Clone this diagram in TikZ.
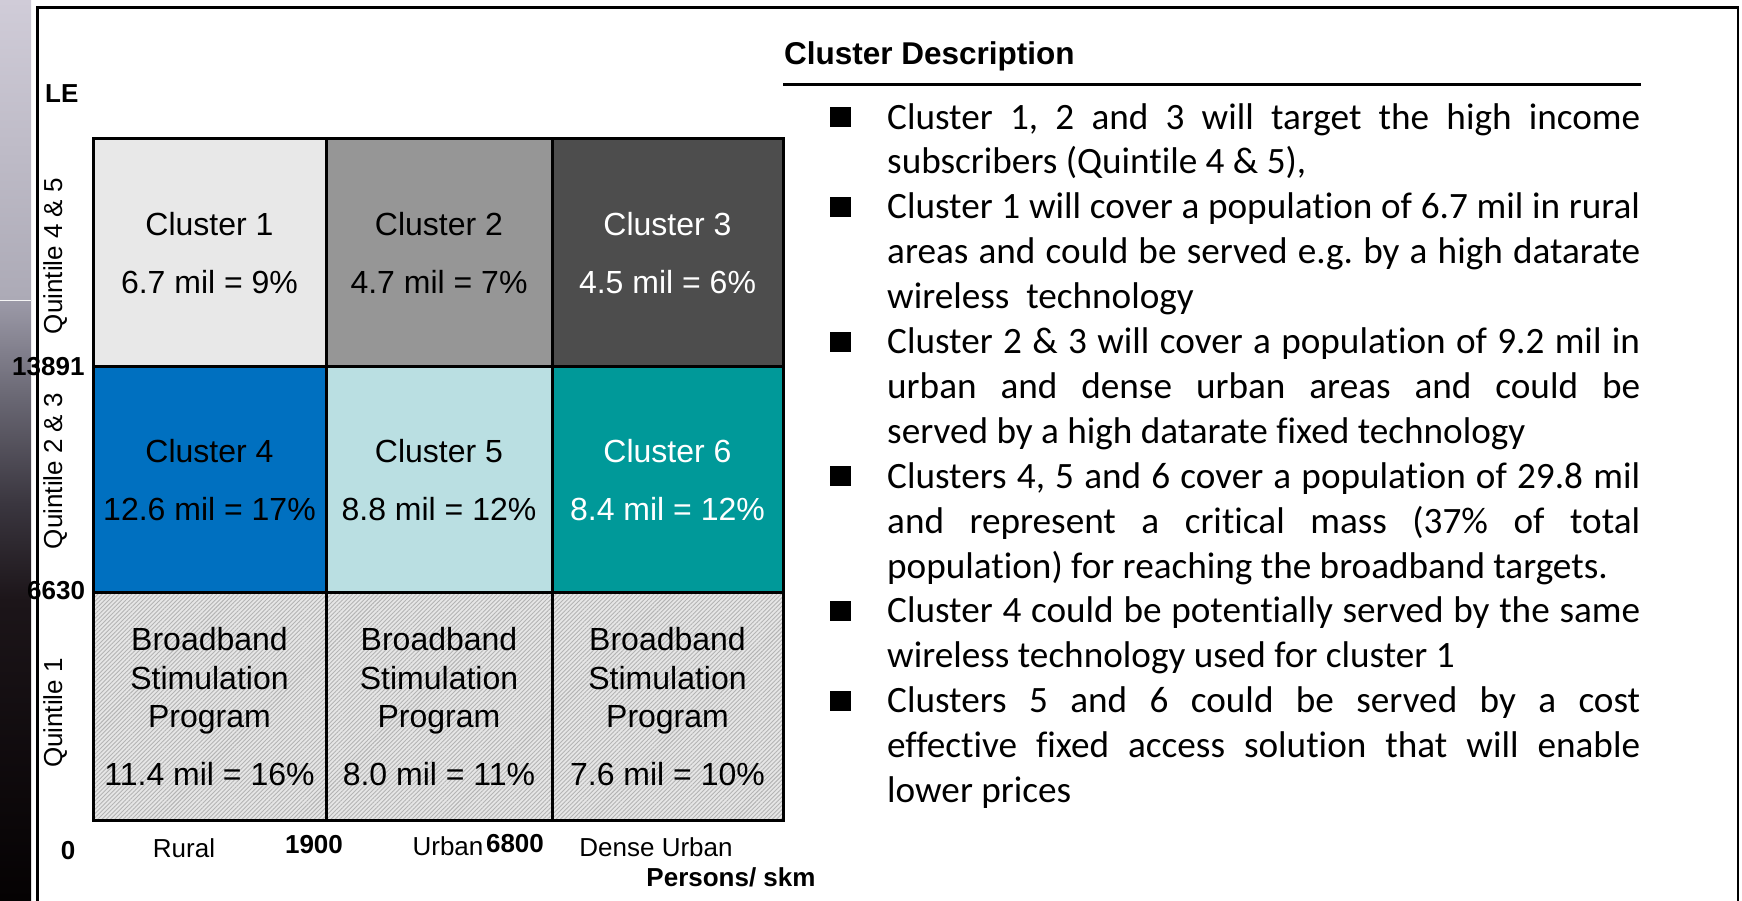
\documentclass[tikz,border=0pt]{standalone}
\usepackage{fontspec}
\setmainfont{Liberation Sans}
\newfontfamily\calfont[Ligatures=NoCommon]{Carlito}
\usetikzlibrary{patterns.meta}
\frenchspacing

% cell fills
\definecolor{cOne}{HTML}{E8E8E8}
\definecolor{cTwo}{HTML}{969696}
\definecolor{cThree}{HTML}{4D4D4D}
\definecolor{cFour}{HTML}{0070C0}
\definecolor{cFive}{HTML}{BADFE2}
\definecolor{cSix}{HTML}{009999}
\definecolor{hatchbase}{HTML}{E6E6E6}
\definecolor{hatchline}{HTML}{B4B4B4}
% side strip
\definecolor{sT}{HTML}{D0CCD8}
\definecolor{sM}{HTML}{ACAAB6}
\definecolor{sA}{HTML}{9C9AA8}
\definecolor{sB}{HTML}{6A6874}
\definecolor{sBB}{HTML}{3A363F}
\definecolor{sC}{HTML}{1C1519}
\definecolor{sD}{HTML}{050203}

\pgfdeclareverticalshading{stripdark}{100bp}{color(0bp)=(sD); color(25bp)=(sD); color(50bp)=(sC); color(58bp)=(sBB); color(67bp)=(sB); color(75bp)=(sA); color(100bp)=(sA)}

\newcommand\jl[1]{\makebox[753pt][s]{#1}}

\tikzset{
  celltxt/.style={font=\fontsize{32}{38}\selectfont, anchor=base, inner sep=0pt},
  axlab/.style={font=\fontsize{26}{30}\selectfont, inner sep=0pt},
  axbold/.style={font=\bfseries\fontsize{26}{30}\selectfont, inner sep=0pt},
  desc/.style={font=\calfont\fontsize{37.2}{44}\selectfont, anchor=base west, inner sep=0pt},
  bulletbox/.style={fill=black, draw=none, minimum width=21pt, minimum height=20pt, inner sep=0pt},
  gridline/.style={line width=3pt, black},
}

\begin{document}
\begin{tikzpicture}[x=1pt,y=-1pt]
\useasboundingbox (0,0) rectangle (1742,900);
\clip (0,0) rectangle (1742,900);
\fill[white] (0,0) rectangle (1742,900);

% dark photographic strip on the left edge
\shade[top color=sT, bottom color=sM] (0,0) rectangle (31,300);
\shade[shading=stripdark] (0,300) rectangle (31,900);
\draw[white!92!gray, line width=1pt] (0,300.5) -- (31,300.5);

% frame
\draw[line width=2.5pt] (37.5,7.5) rectangle (1738,920);

% cells
\fill[cOne]   (93,138) rectangle (326,366);
\fill[cTwo]   (326,138) rectangle (552,366);
\fill[cThree] (552,138) rectangle (783,366);
\fill[cFour]  (93,366) rectangle (326,592);
\fill[cFive]  (326,366) rectangle (552,592);
\fill[cSix]   (552,366) rectangle (783,592);
\fill[hatchbase] (93,592) rectangle (783,820);
\fill[pattern={Lines[angle=45,distance=3pt,line width=0.9pt]}, pattern color=hatchline] (93,592) rectangle (783,820);

% grid
\draw[gridline] (93,138) rectangle (783,820);
\draw[gridline] (326,138) -- (326,820);
\draw[gridline] (552,138) -- (552,820);
\draw[gridline] (93,366) -- (783,366);
\draw[gridline] (93,592) -- (783,592);

% cell texts
\node[celltxt] (c1a) at (209.5,235) {Cluster 1};
\node[celltxt] (c1b) at (209.5,293) {6.7 mil = 9\%};
\node[celltxt] (c2a) at (439,235) {Cluster 2};
\node[celltxt] (c2b) at (439,293) {4.7 mil = 7\%};
\node[celltxt, text=white] (c3a) at (667.5,235) {Cluster 3};
\node[celltxt, text=white] (c3b) at (667.5,293) {4.5 mil = 6\%};
\node[celltxt] (c4a) at (209.5,462) {Cluster 4};
\node[celltxt] (c4b) at (209.5,520) {12.6 mil = 17\%};
\node[celltxt] (c5a) at (439,462) {Cluster 5};
\node[celltxt] (c5b) at (439,520) {8.8 mil = 12\%};
\node[celltxt, text=white] (c6a) at (667.5,462) {Cluster 6};
\node[celltxt, text=white] (c6b) at (667.5,520) {8.4 mil = 12\%};
\foreach \cx/\v/\k in {209.5/11.4 mil = 16\%/7, 439/8.0 mil = 11\%/8, 667.5/7.6 mil = 10\%/9}{
  \node[celltxt] (c\k a) at (\cx,650) {Broadband};
  \node[celltxt] (c\k b) at (\cx,689) {Stimulation};
  \node[celltxt] (c\k c) at (\cx,727) {Program};
  \node[celltxt] (c\k d) at (\cx,785) {\v};
}

% axis labels
\node[axbold, anchor=base west] (le) at (45,102) {LE};
\node[axlab, rotate=90, anchor=base] (q45) at (62,256) {Quintile 4 \& 5};
\node[axlab, rotate=90, anchor=base] (q23) at (62,471) {Quintile 2 \& 3};
\node[axlab, rotate=90, anchor=base] (q1) at (62,713) {Quintile 1};
\node[axbold, anchor=base west] (t13891) at (12,375) {13891};
\node[axbold, anchor=base west] (t6630) at (27,599) {6630};
\node[axbold, anchor=base] (t0) at (68,859) {0};
\node[axbold, anchor=base] (t1900) at (314,853) {1900};
\node[axbold, anchor=base] (t6800) at (515,852) {6800};
\node[axlab, anchor=base] (rural) at (184,857) {Rural};
\node[axlab, anchor=base] (urban) at (448,855) {Urban};
\node[axlab, anchor=base] (dense) at (656,856) {Dense Urban};
\node[axbold, anchor=base] (persons) at (731,886) {Persons/ skm};

% description panel
\node[font=\bfseries\fontsize{31.5}{38}\selectfont, anchor=base west, inner sep=0pt] (head) at (784,64) {Cluster Description};
\coordinate (ulA) at (783,84);
\coordinate (ulB) at (1641,84);
\draw[line width=3pt] (ulA) -- (ulB);

\node[desc] (l1)  at (887,129)   {\jl{Cluster 1, 2 and 3 will target the high income}};
\node[desc] (l2)  at (887,173.9) {subscribers (Quintile 4 \& 5),};
\node[desc] (l3)  at (887,218.8) {\jl{Cluster 1 will cover a population of 6.7 mil in rural}};
\node[desc] (l4)  at (887,263.7) {\jl{areas and could be served e.g. by a high datarate}};
\node[desc] (l5)  at (887,308.6) {wireless\ \ technology};
\node[desc] (l6)  at (887,353.5) {\jl{Cluster 2 \& 3 will cover a population of 9.2 mil in}};
\node[desc] (l7)  at (887,398.4) {\jl{urban and dense urban areas and could be}};
\node[desc] (l8)  at (887,443.3) {served by a high datarate fixed technology};
\node[desc] (l9)  at (887,488.2) {\jl{Clusters 4, 5 and 6 cover a population of 29.8 mil}};
\node[desc] (l10) at (887,533.1) {\jl{and represent a critical mass (37\% of total}};
\node[desc] (l11) at (887,578.0) {population) for reaching the broadband targets.};
\node[desc] (l12) at (887,622.9) {\jl{Cluster 4 could be potentially served by the same}};
\node[desc] (l13) at (887,667.8) {wireless technology used for cluster 1};
\node[desc] (l14) at (887,712.7) {\jl{Clusters 5 and 6 could be served by a cost}};
\node[desc] (l15) at (887,757.6) {\jl{effective fixed access solution that will enable}};
\node[desc] (l16) at (887,802.5) {lower prices};

% bullets
\foreach \b/\yy in {1/129, 2/218.8, 3/353.5, 4/488.2, 5/622.9, 6/712.7}{
  \node[bulletbox] (b\b) at (840.5,\yy-12) {};
}
\end{tikzpicture}
\end{document}
